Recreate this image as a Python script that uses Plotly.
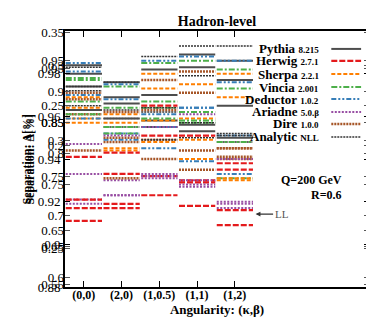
import plotly.graph_objects as go

# angularity bins
categories = ["(0,0)", "(2,0)", "(1,0.5)", "(1,1)", "(1,2)"]

generators = ["Pythia", "Herwig", "Sherpa", "Vincia", "Deductor", "Ariadne", "Dire", "Analytic"]
versions = ["8.215", "2.7.1", "2.2.1", "2.001", "1.0.2", "5.0.β", "1.0.0", "NLL"]

# separation per bin, four overlaid panels per generator
pythia = [[0.984, 0.976, 0.982, 0.989, 0.986],
          [0.980, 0.969, 0.970, 0.983, 0.977],
          [0.974, 0.959, 0.958, 0.956, 0.950],
          [0.963, 0.966, 0.955, 0.953, 0.965]]
herwig = [[0.941, 0.943, 0.965, 0.951, 0.938],
          [0.921, 0.933, 0.951, 0.930, 0.935],
          [0.911, 0.917, 0.923, 0.918, 0.909],
          [0.917, 0.919, 0.932, 0.929, 0.916]]
sherpa = [[0.969, 0.961, 0.973, 0.975, 0.969],
          [0.964, 0.957, 0.980, 0.959, 0.980],
          [0.957, 0.944, 0.958, 0.949, 0.931],
          [0.959, 0.945, 0.948, 0.940, 0.930]]
vincia = [[0.978, 0.974, 0.985, 0.986, 0.982],
          [0.977, 0.955, 0.967, 0.958, 0.973],
          [0.961, 0.952, 0.959, 0.962, 0.948],
          [0.967, 0.964, 0.964, 0.957, 0.931]]
deductor = [[0.985, 0.975, 0.986, 0.988, 0.986],
            [0.981, 0.968, 0.961, 0.964, 0.976],
            [0.959, 0.949, 0.945, 0.939, 0.933],
            [0.970, 0.952, 0.955, 0.964, 0.951]]
ariadne = [[0.947, 0.951, 0.955, 0.961, 0.940],
           [0.933, 0.923, 0.933, 0.930, 0.920],
           [0.921, 0.923, 0.931, 0.928, 0.917],
           [0.919, 0.930, 0.932, 0.927, 0.919]]
dire = [[0.971, 0.962, 0.977, 0.981, 0.945],
        [0.968, 0.950, 0.963, 0.971, 0.941],
        [0.944, 0.931, 0.940, 0.935, 0.945],
        [0.961, 0.948, 0.949, 0.944, 0.940]]
nll = [[0.983, 0.976, 0.988, 0.993, 0.993],
       [0.974, 0.963, 0.964, 0.979, 0.952],
       [0.965, 0.955, 0.949, 0.957, 0.951],
       [0.972, 0.959, 0.962, 0.950, 0.948]]

all_series = [pythia, herwig, sherpa, vincia, deductor, ariadne, dire, nll]

colors = ["#4d4d4d", "#e41a1c", "#ff7f00", "#4daf4a", "#377eb8", "#984ea3", "#a65628", "#333333"]
dashes = ["solid", "6px,2px", "4px,2px", "6px,2px,2px,2px", "5px,2px,2px,2px,2px,2px",
          "2px,1.5px", "2px,1px", "2px,1px"]
widths = [2, 2.2, 2, 2, 2, 2, 2.5, 1.5]

FONT = "Liberation Serif, DejaVu Serif, serif"

fig = go.Figure()

# draw overlaid panels back to front so the first one sits on top
for p in reversed(range(4)):
    for g, series in enumerate(all_series):
        xs, ys = [], []
        for i, v in enumerate(series[p]):
            xs += [i - 0.48, i + 0.48, None]
            ys += [v, v, None]
        fig.add_trace(go.Scatter(x=xs, y=ys, mode="lines", showlegend=False,
                                 line=dict(color=colors[g], width=widths[g], dash=dashes[g])))

# empty traces so the overlaid axes get drawn
for ax in ["y2", "y3", "y4", "y5"]:
    fig.add_trace(go.Scatter(x=[None], y=[None], yaxis=ax, showlegend=False))

# hand-built legend, text right-aligned with line sample on the right
row_y = [0.930, 0.883, 0.832, 0.781, 0.734, 0.684, 0.637, 0.586]
for g, name in enumerate(generators):
    fig.add_annotation(x=0.843, y=row_y[g], xref="paper", yref="paper", xanchor="right",
                       yanchor="middle", showarrow=False,
                       text=f"<b>{name}</b> <span style='font-size:9px'><b>{versions[g]}</b></span>",
                       font=dict(family=FONT, size=13, color="black"))
    fig.add_shape(type="line", xref="paper", yref="paper", x0=0.876, x1=0.974,
                  y0=row_y[g], y1=row_y[g],
                  line=dict(color=colors[g], width=widths[g], dash=dashes[g]))

fig.add_annotation(x=0.918, y=0.418, xref="paper", yref="paper", xanchor="right",
                   showarrow=False, text="<b>Q=200 GeV</b>",
                   font=dict(family=FONT, size=12, color="black"))
fig.add_annotation(x=0.918, y=0.359, xref="paper", yref="paper", xanchor="right",
                   showarrow=False, text="<b>R=0.6</b>",
                   font=dict(family=FONT, size=12, color="black"))
fig.add_annotation(x=0.627, y=0.285, xref="paper", yref="paper", ax=26, ay=0,
                   text="LL", showarrow=True, arrowhead=2, arrowsize=0.8, arrowwidth=1.2,
                   arrowcolor="#333", font=dict(family=FONT, size=11, color="#555"))

# y title, drawn twice with a small offset like the overlaid panels in the original
for xt in [-0.153, -0.146]:
    fig.add_annotation(x=xt, y=0.5, xref="paper", yref="paper", textangle=-90,
                       showarrow=False, text="<b>Separation: Δ[%]</b>",
                       font=dict(family=FONT, size=12, color="black"))

tickfont = dict(family=FONT, size=13, color="black")
overlay = dict(overlaying="y", side="left", anchor="x", showline=False, showgrid=False,
               zeroline=False, ticks="inside", ticklen=5, tickcolor="#555", mirror="ticks",
               tickfont=tickfont)

fig.update_layout(
    width=374, height=324,
    margin=dict(l=57, r=11, t=23, b=45),
    paper_bgcolor="white", plot_bgcolor="white",
    showlegend=False,
    title=dict(text="<b>Hadron-level</b>", x=0.5, xref="paper", y=0.96, yref="container",
               yanchor="middle", font=dict(family=FONT, size=14, color="black")),
    xaxis=dict(range=[-0.5, 7.553], tickvals=list(range(5)), ticktext=[f"<b>{c}</b>" for c in categories],
               showline=True, linecolor="black", linewidth=2, mirror="ticks",
               ticks="inside", ticklen=6, tickcolor="black", showgrid=False, zeroline=False,
               ticklabelstandoff=-4,
               tickfont=dict(family=FONT, size=12, color="black"),
               title=dict(text="<b>Angularity: (κ,β)</b>", standoff=0,
                          font=dict(family=FONT, size=13, color="black"))),
    yaxis=dict(range=[0.88, 1.0], tickvals=[0.88, 0.9, 0.92, 0.94, 0.96, 0.98],
               ticktext=["0.88", "0.9", "0.92", "0.94", "0.96", "0.98"],
               showline=True, linecolor="black", linewidth=2, mirror="ticks",
               ticks="inside", ticklen=5, tickcolor="black", showgrid=False, zeroline=False,
               tickfont=tickfont),
    yaxis2=dict(range=[0.585, 0.998], tickvals=[0.6, 0.65, 0.7, 0.75, 0.8, 0.85, 0.9, 0.95],
                **overlay),
    yaxis3=dict(range=[0.0225, 0.3425], tickvals=[0.2, 0.25, 0.3], **overlay),
    yaxis4=dict(range=[0.232, 0.3505], tickvals=[0.25, 0.3, 0.35], **overlay),
    yaxis5=dict(range=[0.546, 1.02], tickvals=[0.55, 0.65, 0.75, 0.85, 0.95], **overlay),
)

fig.write_html("out.html")
